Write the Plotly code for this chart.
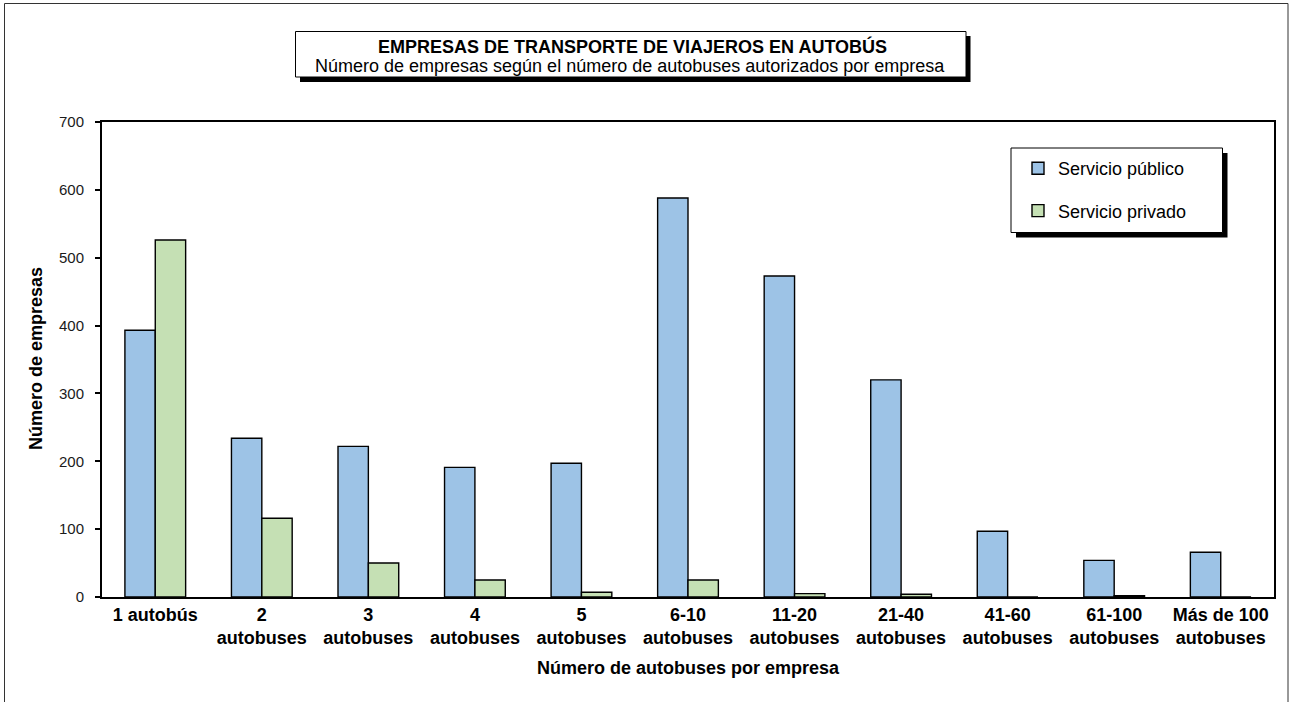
import plotly.graph_objects as go

categories = ["1 autobús", "2<br>autobuses", "3<br>autobuses", "4<br>autobuses", "5<br>autobuses",
              "6-10<br>autobuses", "11-20<br>autobuses", "21-40<br>autobuses", "41-60<br>autobuses",
              "61-100<br>autobuses", "Más de 100<br>autobuses"]
publico = [393, 234, 222, 191, 197, 588, 473, 320, 97, 54, 66]
privado = [526, 116, 50, 25, 7, 25, 5, 4, 0, 2, 0]
y_ticks = [0, 100, 200, 300, 400, 500, 600, 700]

W, H = 1295, 702
L, R, T, B = 102, 21, 122, 105
PW, PH = W - L - R, H - T - B

def px(x):  # page pixel -> paper x
    return (x - L) / PW

def py(y):  # page pixel -> paper y
    return (H - B - y) / PH

FONT = "Liberation Sans, Arial, sans-serif"

fig = go.Figure()
fig.add_trace(go.Bar(x=categories, y=publico, name="Servicio público",
                     marker=dict(color="#9DC3E6", line=dict(color="#000000", width=1.4)),
                     legendgroup="a"))
fig.add_trace(go.Bar(x=categories, y=privado, name="Servicio privado",
                     marker=dict(color="#C5E0B4", line=dict(color="#000000", width=1.4)),
                     legendgroup="b"))

shapes = []
# outer frame
shapes.append(dict(type="rect", xref="paper", yref="paper", x0=px(4.5), x1=px(1288), y0=py(720), y1=py(3.5),
                   line=dict(color="#333333", width=1), fillcolor="rgba(0,0,0,0)", layer="below"))
# title box shadow + box
shapes.append(dict(type="rect", xref="paper", yref="paper", x0=px(300), x1=px(970.5), y0=py(82), y1=py(36),
                   line=dict(width=0), fillcolor="#000000", layer="above"))
shapes.append(dict(type="rect", xref="paper", yref="paper", x0=px(295.5), x1=px(966), y0=py(77), y1=py(31.5),
                   line=dict(color="#000000", width=1), fillcolor="#FFFFFF", layer="above"))
# legend shadow + box
shapes.append(dict(type="rect", xref="paper", yref="paper", x0=px(1016), x1=px(1227.5), y0=py(237.5), y1=py(153),
                   line=dict(width=0), fillcolor="#000000", layer="above"))
shapes.append(dict(type="rect", xref="paper", yref="paper", x0=px(1011), x1=px(1222.5), y0=py(232.5), y1=py(148),
                   line=dict(color="#000000", width=1), fillcolor="#FFFFFF", layer="above"))

annotations = [
    dict(text="<b>EMPRESAS DE TRANSPORTE DE VIAJEROS EN AUTOBÚS</b>", xref="paper", yref="paper",
         x=px(632), y=py(46), xanchor="center", yanchor="middle", showarrow=False,
         font=dict(family=FONT, size=18, color="#000000")),
    dict(text="Número de empresas según el número de autobuses autorizados por empresa", xref="paper", yref="paper",
         x=px(630), y=py(66), xanchor="center", yanchor="middle", showarrow=False,
         font=dict(family=FONT, size=18, color="#000000")),
    dict(text="<b>Número de autobuses por empresa</b>", xref="paper", yref="paper",
         x=px(688), y=py(668), xanchor="center", yanchor="middle", showarrow=False,
         font=dict(family=FONT, size=18, color="#000000")),
    dict(text="<b>Número de empresas</b>", xref="paper", yref="paper", textangle=-90,
         x=px(36), y=py(359), xanchor="center", yanchor="middle", showarrow=False,
         font=dict(family=FONT, size=18, color="#000000")),
]

fig.update_layout(
    width=W, height=H,
    margin=dict(l=L, r=R, t=T, b=B),
    paper_bgcolor="#FFFFFF", plot_bgcolor="#FFFFFF",
    barmode="group", bargap=0.43, bargroupgap=0,
    font=dict(family=FONT, size=15, color="#000000"),
    showlegend=True,
    legend=dict(x=px(1018), y=py(150), xanchor="left", yanchor="top",
                bgcolor="rgba(0,0,0,0)", borderwidth=0,
                font=dict(family=FONT, size=18, color="#000000"),
                tracegroupgap=16, traceorder="grouped", itemwidth=30),
    shapes=shapes,
    annotations=annotations,
    xaxis=dict(type="category", showline=True, linecolor="#000000", linewidth=2, mirror=True,
               ticks="", showgrid=False,
               tickfont=dict(family=FONT, size=18, color="#000000", weight="bold")),
    yaxis=dict(range=[0, 700], tickvals=y_ticks, showline=True, linecolor="#000000", linewidth=2, mirror=True,
               ticks="outside", ticklen=5, tickcolor="#000000", tickwidth=1.5, showgrid=False, zeroline=False,
               ticklabelstandoff=8,
               tickfont=dict(family=FONT, size=15, color="#1a1a1a")),
)

fig.write_html("out.html", config={"displayModeBar": False},
               post_script="document.body.style.margin='0px';document.body.style.overflow='hidden';")
